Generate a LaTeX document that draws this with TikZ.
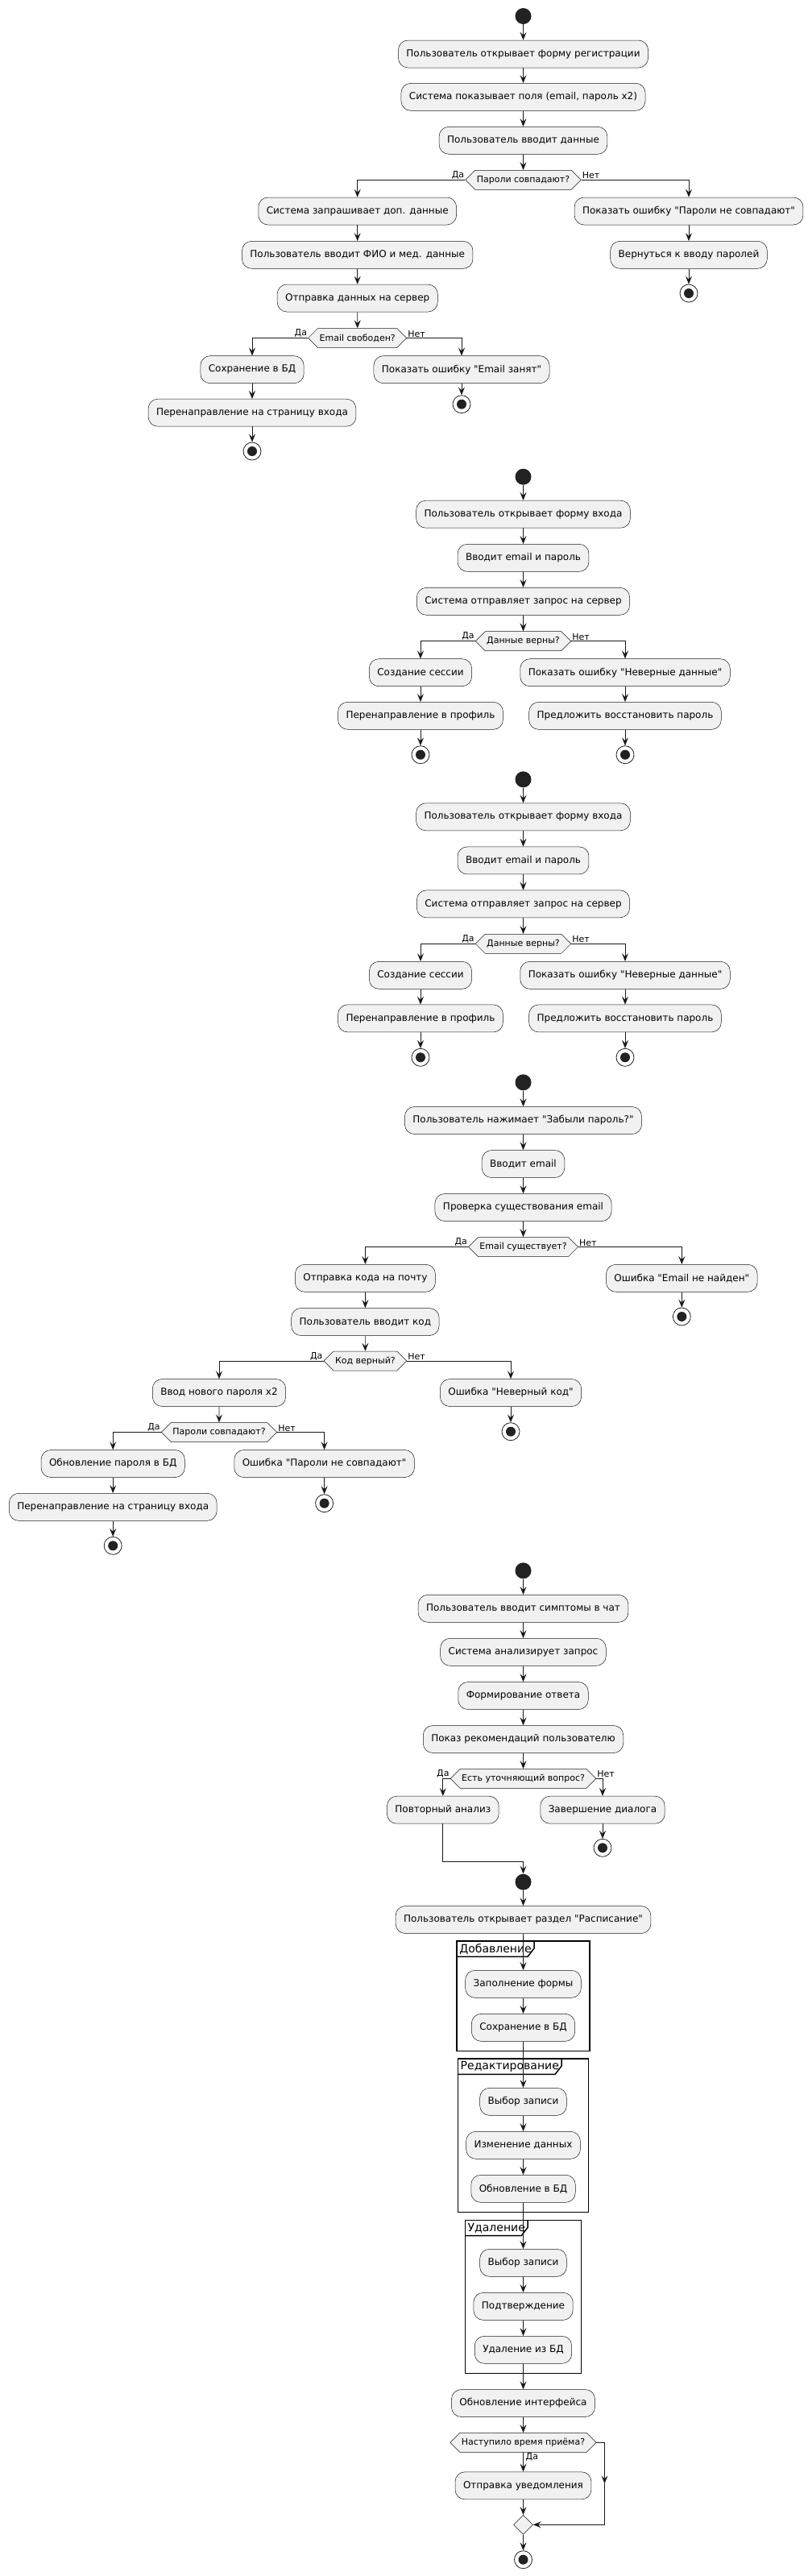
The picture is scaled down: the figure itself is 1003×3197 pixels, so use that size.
\documentclass[tikz,border=0pt]{standalone}
\usepackage{fontspec}
\setmainfont{DejaVu Sans}[Ligatures=TeXOff]
\usetikzlibrary{positioning,arrows.meta,calc,shapes.geometric,shapes.symbols}
\definecolor{actfill}{HTML}{F1F1F1}
\definecolor{actline}{HTML}{181818}
\definecolor{dotblack}{HTML}{222222}

\begin{document}
\begin{tikzpicture}[x=1pt,y=-1pt,
  >={Stealth[length=10pt,width=8pt,inset=4pt]},
  act/.style={draw=actline,line width=0.5pt,fill=actfill,rounded corners=12pt,minimum height=34pt,inner xsep=10pt,font=\fontsize{12}{14}\selectfont},
  dec/.style={shape=signal,signal to=east and west,draw=actline,line width=0.5pt,fill=actfill,minimum height=24pt,inner xsep=2pt,inner ysep=0pt,font=\fontsize{11}{13}\selectfont},
  mergebox/.style={diamond,draw=actline,line width=0.5pt,fill=actfill,minimum size=24pt,inner sep=0pt},
  startdot/.style={circle,fill=dotblack,minimum size=20pt,inner sep=0pt},
  stopdot/.style={circle,draw=dotblack,line width=0.8pt,fill=white,minimum size=22pt,inner sep=0pt,path picture={\fill[dotblack] (path picture bounding box.center) circle (6pt);}},
  ar/.style={->,draw=actline,line width=0.6pt},
  br/.style={->,draw=actline,line width=1pt},
  lbl/.style={font=\fontsize{11}{13}\selectfont,inner sep=1pt},
  grp/.style={draw=black,line width=1.5pt},
  grplbl/.style={font=\fontsize{14}{16}\selectfont,anchor=north west,inner xsep=3pt,inner ysep=0pt,minimum height=19pt}
]
\useasboundingbox (0,0) rectangle (1003,3197);

% Group frames (drawn first, connectors pass over them)
\draw[grp] (567.2,2409) rectangle (731.8,2545.7);
\node[grplbl] (g1) at (567.2,2409) {Добавление};
\draw[grp] (g1.north east) -- ([yshift=-9pt]g1.north east) -- ([xshift=-8pt]g1.south east) -- (g1.south west);
\draw[grp] (568.5,2555) rectangle (730.5,2745.7);
\node[grplbl] (g2) at (568.5,2555) {Редактирование};
\draw[grp] (g2.north east) -- ([yshift=-9pt]g2.north east) -- ([xshift=-8pt]g2.south east) -- (g2.south west);
\draw[grp] (577.5,2755.3) rectangle (721.5,2945.7);
\node[grplbl] (g3) at (577.5,2755.3) {Удаление};
\draw[grp] (g3.north east) -- ([yshift=-9pt]g3.north east) -- ([xshift=-8pt]g3.south east) -- (g3.south west);

% Registration
\node[startdot] (s1) at (649.5,20) {};
\node[act] (a1) at (649.5,67) {Пользователь открывает форму регистрации};
\node[act] (a2) at (649.5,120.3) {Система показывает поля (email, пароль x2)};
\node[act] (a3) at (649.5,174.3) {Пользователь вводит данные};
\node[dec] (d1) at (649.5,223.3) {Пароли совпадают?};
\node[act] (a4) at (443.7,262) {Система запрашивает доп. данные};
\node[act] (a5) at (443.7,316.3) {Пользователь вводит ФИО и мед. данные};
\node[act] (a6) at (443.7,370) {Отправка данных на сервер};
\node[dec] (d2) at (443.7,419.5) {Email свободен?};
\node[act] (a7) at (313,458.7) {Сохранение в БД};
\node[act] (a8) at (313,512.2) {Перенаправление на страницу входа};
\node[stopdot] (z1) at (313,560) {};
\node[act] (e1) at (855,262) {Показать ошибку "Пароли не совпадают"};
\node[act] (e2) at (855,316.3) {Вернуться к вводу паролей};
\node[stopdot] (z2) at (855,364) {};
\node[act] (e3) at (573,458.7) {Показать ошибку "Email занят"};
\node[stopdot] (z3) at (573,501.7) {};

% Login (first)
\node[startdot] (s2) at (649.5,591.7) {};
\node[act] (l1) at (649.5,638.2) {Пользователь открывает форму входа};
\node[act] (l2) at (649.5,692.3) {Вводит email и пароль};
\node[act] (l3) at (649.5,746.3) {Система отправляет запрос на сервер};
\node[dec] (d3) at (649.5,795.7) {Данные верны?};
\node[act] (l4) at (522,834.7) {Создание сессии};
\node[act] (l5) at (522,888.3) {Перенаправление в профиль};
\node[stopdot] (z4) at (522,936.7) {};
\node[act] (l6) at (776,834.7) {Показать ошибку "Неверные данные"};
\node[act] (l7) at (776,888.3) {Предложить восстановить пароль};
\node[stopdot] (z5) at (776,936.7) {};

% Login (second)
\node[startdot] (s3) at (649.5,967.3) {};
\node[act] (k1) at (649.5,1013.8) {Пользователь открывает форму входа};
\node[act] (k2) at (649.5,1067.9) {Вводит email и пароль};
\node[act] (k3) at (649.5,1121.9) {Система отправляет запрос на сервер};
\node[dec] (d4) at (649.5,1171.3) {Данные верны?};
\node[act] (k4) at (522,1210.3) {Создание сессии};
\node[act] (k5) at (522,1263.9) {Перенаправление в профиль};
\node[stopdot] (z6) at (522,1312.3) {};
\node[act] (k6) at (776,1210.3) {Показать ошибку "Неверные данные"};
\node[act] (k7) at (776,1263.9) {Предложить восстановить пароль};
\node[stopdot] (z7) at (776,1312.3) {};

% Password recovery
\node[startdot] (s4) at (649.5,1343.3) {};
\node[act] (f1) at (649.5,1390.5) {Пользователь нажимает "Забыли пароль?"};
\node[act] (f2) at (649.5,1444.5) {Вводит email};
\node[act] (f3) at (649.5,1498.5) {Проверка существования email};
\node[dec] (d5) at (649.5,1547.5) {Email существует?};
\node[act] (f4) at (453.4,1586.3) {Отправка кода на почту};
\node[act] (f5) at (846.3,1586.3) {Ошибка "Email не найден"};
\node[stopdot] (z8) at (846.3,1634) {};
\node[act] (f6) at (453.4,1640.5) {Пользователь вводит код};
\node[dec] (d6) at (453.4,1689) {Код верный?};
\node[act] (f7) at (272,1728.5) {Ввод нового пароля x2};
\node[act] (f8) at (634,1728.5) {Ошибка "Неверный код"};
\node[stopdot] (z9) at (634,1776.7) {};
\node[dec] (d7) at (272,1777.5) {Пароли совпадают?};
\node[act] (f9) at (140.2,1816.5) {Обновление пароля в БД};
\node[act] (f10) at (402.6,1816.5) {Ошибка "Пароли не совпадают"};
\node[stopdot] (z10) at (402.6,1865.7) {};
\node[act] (f11) at (140.2,1870.3) {Перенаправление на страницу входа};
\node[stopdot] (z11) at (140.2,1918.3) {};

% Chat
\node[startdot] (s5) at (649.5,1949.3) {};
\node[act] (c1) at (649.5,1996.3) {Пользователь вводит симптомы в чат};
\node[act] (c2) at (649.5,2050.3) {Система анализирует запрос};
\node[act] (c3) at (649.5,2104.5) {Формирование ответа};
\node[act] (c4) at (649.5,2158.5) {Показ рекомендаций пользователю};
\node[dec] (d8) at (649.5,2207.3) {Есть уточняющий вопрос?};
\node[act] (c5) at (549.8,2246.2) {Повторный анализ};
\node[act] (c6) at (748,2246.2) {Завершение диалога};
\node[stopdot] (z12) at (748,2293.3) {};
\coordinate (back) at (549.8,2310.3);

% Schedule
\node[startdot] (s6) at (649.5,2335.7) {};
\node[act] (p1) at (649.5,2382.5) {Пользователь открывает раздел "Расписание"};
\node[act] (p2) at (649.5,2462.3) {Заполнение формы};
\node[act] (p3) at (649.5,2516.3) {Сохранение в БД};
\node[act] (p4) at (649.5,2608.3) {Выбор записи};
\node[act] (p5) at (649.5,2662.3) {Изменение данных};
\node[act] (p6) at (649.5,2716.3) {Обновление в БД};
\node[act] (p7) at (649.5,2808.3) {Выбор записи};
\node[act] (p8) at (649.5,2862.3) {Подтверждение};
\node[act] (p9) at (649.5,2916.3) {Удаление из БД};
\node[act] (p10) at (649.5,2982.5) {Обновление интерфейса};
\node[dec] (d9) at (649.5,3031.3) {Наступило время приёма?};
\node[act] (p11) at (649.5,3084.8) {Отправка уведомления};
\node[mergebox] (mg) at (649.5,3133.3) {};
\node[stopdot] (z13) at (649.5,3176.7) {};
\coordinate (skipA) at (750.5,3031.3);
\coordinate (skipB) at (750.5,3133.3);
\coordinate (skipM) at (750.5,3082.3);

% Straight flow
\foreach \a/\b in {s1/a1,a1/a2,a2/a3,a3/d1,a4/a5,a5/a6,a6/d2,a7/a8,a8/z1,e1/e2,e2/z2,e3/z3,%
  s2/l1,l1/l2,l2/l3,l3/d3,l4/l5,l5/z4,l6/l7,l7/z5,%
  s3/k1,k1/k2,k2/k3,k3/d4,k4/k5,k5/z6,k6/k7,k7/z7,%
  s4/f1,f1/f2,f2/f3,f3/d5,f4/f6,f6/d6,f5/z8,f8/z9,f7/d7,f10/z10,f9/f11,f11/z11,%
  s5/c1,c1/c2,c2/c3,c3/c4,c4/d8,c6/z12,%
  s6/p1,p1/p2,p2/p3,p3/p4,p4/p5,p5/p6,p6/p7,p7/p8,p8/p9,p9/p10,p10/d9,d9/p11,p11/mg,mg/z13}
  \draw[ar] (\a) -- (\b);

% Branches
\foreach \d/\y/\n in {d1/a4/e1,d2/a7/e3,d3/l4/l6,d4/k4/k6,d5/f4/f5,d6/f7/f8,d7/f9/f10,d8/c5/c6}{
  \draw[br] (\d.west) -| (\y.north);
  \draw[br] (\d.east) -| (\n.north);
  \node[lbl,anchor=south east] (\d yes) at (\d.west) {Да};
  \node[lbl,anchor=south west] (\d no) at (\d.east) {Нет};
}
\draw[ar,line width=0.9pt] (c5.south) -- (back) -| (s6.north);
\node[lbl,anchor=north west] (d9yes) at ([xshift=2pt]d9.south) {Да};
\draw[br] (d9.east) -- (skipA) -- (skipM);
\draw[br] (skipM) -- (skipB) -- (mg.east);
\end{tikzpicture}
\end{document}
